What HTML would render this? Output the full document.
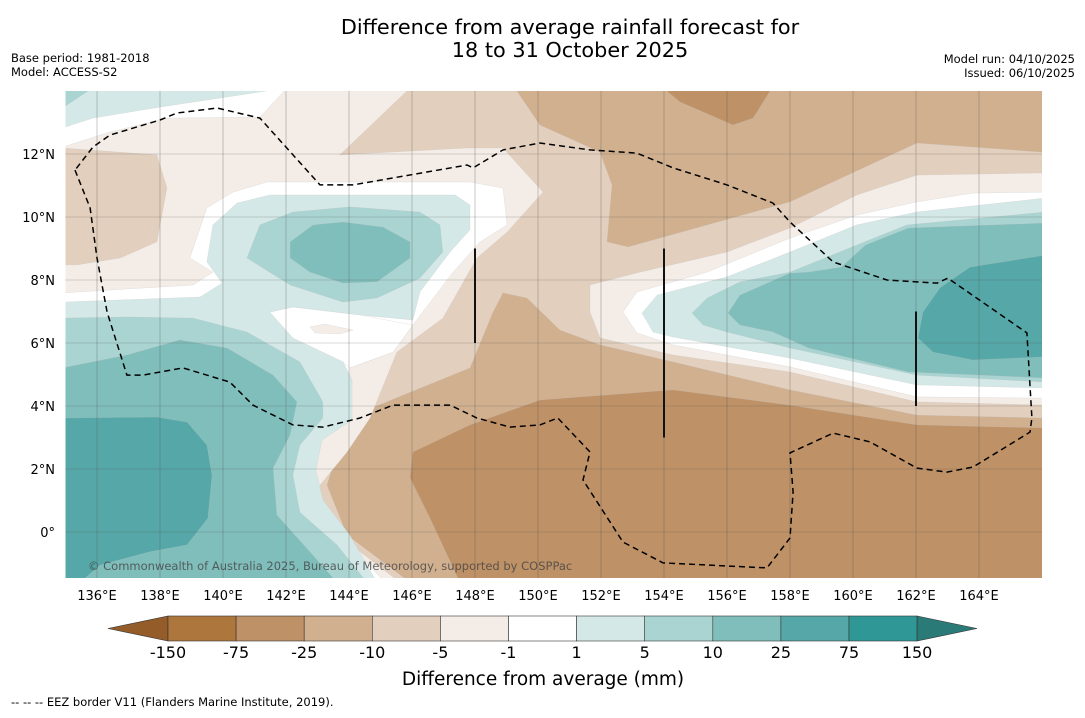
<!DOCTYPE html>
<html><head><meta charset="utf-8">
<style>
body{margin:0;background:#fff;font-family:"Liberation Sans","DejaVu Sans",sans-serif;}
svg text{font-family:"DejaVu Sans","Liberation Sans",sans-serif;}
</style></head>
<body>
<svg id="chart" width="1085" height="713" viewBox="0 0 1085 713" xmlns="http://www.w3.org/2000/svg">
<text x="570" y="34" font-size="20.8" text-anchor="middle">Difference from average rainfall forecast for</text>
<text x="570" y="57" font-size="20.8" text-anchor="middle">18 to 31 October 2025</text>
<text x="11" y="62" font-size="11.5">Base period: 1981-2018</text>
<text x="11" y="76" font-size="11.5">Model: ACCESS-S2</text>
<text x="1075" y="63" font-size="11.5" text-anchor="end">Model run: 04/10/2025</text>
<text x="1075" y="77" font-size="11.5" text-anchor="end">Issued: 06/10/2025</text>
<defs><clipPath id="mapclip"><rect x="65.5" y="91" width="976.5" height="487"/></clipPath></defs>
<g id="map" clip-path="url(#mapclip)"></g>
<g id="axes"></g>
<g id="cbar"></g>
<text x="543" y="685" font-size="18.5" text-anchor="middle">Difference from average (mm)</text>
<text x="11" y="706" font-size="11.5">--  --  -- EEZ border V11 (Flanders Marine Institute, 2019).</text>
</svg>
<script>
// axis extents
const lonMin=135, lonMax=166, latMin=-1.5, latMax=14;
const x=lon=>65.5+(lon-lonMin)*31.5;
const y=lat=>91+(latMax-lat)*31.5;
const NS='http://www.w3.org/2000/svg';
const levelColors=['#935c28','#ac763d','#be9166','#d1b08f','#e3cfbd','#f4ede7','#ffffff','#d4e9e7','#aad4d2','#80bebc','#56a8a8','#2f9896','#2a7a78'];
const levelLabels=['-150','-75','-25','-10','-5','-1','1','5','10','25','75','150'];
const lonTicks=[136,138,140,142,144,146,148,150,152,154,156,158,160,162,164];
const latTicks=[0,2,4,6,8,10,12];
// contour polygons [lon,lat], painter's order; level index into levelColors
const cLevels=[4,2,2,5,4,5,6,6,7,8,7,6,5,8,8,9,9,10,6,7,8,9,10];
const cPolys=[
[[135,14],[149.33,14],[150.06,12.92],[151.97,12.06],[152.35,11.02],[152.19,9.21],[152.86,9.05],[158,10.48],[162.03,12.35],[166,12.06],[166,3.62],[162.03,3.71],[158,4.51],[154.29,5.4],[151.97,5.94],[150.7,6.41],[149.65,7.43],[148.89,7.59],[148.57,6.98],[147.84,5.21],[143.94,3.62],[143.3,1.49],[143.94,-0.1],[145.94,-1.6],[134.9,-1.6]],
[[146.03,2.54],[147.84,3.4],[150.06,4.19],[154.29,4.51],[158,4.03],[162.03,3.4],[166.1,3.3],[166.1,-1.6],[147.52,-1.6],[146.57,0.44],[145.94,1.71]],
[[153.97,14.1],[154.51,13.65],[156.19,12.92],[156.83,13.14],[157.43,14.1]],
[[134.9,14.1],[145.94,14.1],[143.71,11.97],[147.75,12.19],[148.89,12.19],[150.16,10.79],[149.02,9.52],[148.06,8.7],[146.98,6.79],[145.52,5.71],[144.67,3.62],[143.94,2.54],[143.08,1.49],[142.86,0.13],[144.35,-0.63],[145.62,-1.6],[134.9,-1.6]],
[[134.9,12.19],[137.9,11.97],[138.22,10.92],[137.9,9.21],[136.73,8.7],[135.37,8.48],[134.9,8.48]],
[[151.65,7.84],[153.24,8.25],[156,8.89],[158,9.65],[160.12,10.7],[162.03,11.33],[166.1,11.4],[166.1,4.03],[162.03,4.13],[158,5.08],[154.29,5.62],[151.97,6.16],[151.65,6.98]],
[[134.9,7.59],[139.05,7.84],[139.68,8.25],[138.95,8.7],[139.49,10.29],[140.32,10.79],[141.4,11.11],[147.84,11.11],[148.89,10.92],[149.02,9.75],[148.16,9.21],[147.3,8.25],[146.03,6.57],[145.4,5.71],[144.03,5.21],[144.03,3.62],[143.08,3.08],[142.67,2.03],[142.86,0.95],[143.94,-0.32],[145.14,-1.6],[134.9,-1.6]],
[[134.9,14.1],[142.03,14.1],[141.17,13.17],[138.22,13.14],[136.41,12.7],[134.9,12.22]],
[[134.9,14.1],[142.03,14.1],[138,13.49],[135.87,13.14],[134.9,12.83]],
[[134.9,14.1],[135.87,14.1],[134.9,13.46]],
[[134.9,7.3],[139.27,7.46],[139.97,7.9],[139.49,8.57],[139.68,9.75],[140.44,10.44],[141.49,10.7],[147.37,10.7],[147.84,10.38],[147.84,9.59],[147.21,8.89],[146.25,7.62],[146.03,6.73],[144.35,6.89],[142.22,7.14],[141.49,6.98],[142.22,6.16],[143.81,5.4],[144.1,4.83],[144.1,3.56],[143.14,2.92],[142.95,1.97],[143.17,1.02],[144.03,-0.1],[144.89,-1.6],[134.9,-1.6]],
[[141.49,6.98],[142.22,7.14],[144.35,6.89],[146.03,6.57],[145.4,5.71],[144.03,5.21],[143.81,5.4],[142.22,6.16]],
[[142.76,6.51],[143.24,6.6],[144.13,6.41],[143.71,6.29],[142.92,6.32]],
[[134.9,6.79],[136.95,6.83],[139.05,6.79],[140.76,6.35],[142.44,5.4],[143.17,4.13],[143.17,3.62],[142.44,2.76],[142.22,1.81],[142.44,0.63],[143.62,-0.41],[144.57,-1.6],[134.9,-1.6]],
[[140.76,8.7],[141.17,9.75],[142.22,10.16],[144.03,10.32],[146.25,10.16],[146.89,9.75],[146.98,8.89],[146.25,8.06],[144.89,7.43],[143.81,7.3],[142.13,7.84]],
[[134.9,5.21],[136.95,5.62],[138.63,6.1],[140.13,5.84],[141.59,4.98],[142.35,4.13],[142.13,3.08],[141.59,2.03],[141.71,0.54],[142.76,-0.63],[143.62,-1.6],[134.9,-1.6]],
[[142.13,9.21],[142.86,9.75],[143.81,9.84],[145.08,9.68],[145.94,9.21],[145.94,8.7],[144.89,7.94],[143.81,7.9],[142.76,8.25],[142.13,8.7]],
[[134.9,3.62],[137.9,3.65],[138.86,3.49],[139.49,2.76],[139.65,1.81],[139.52,0.44],[138.86,-0.41],[137.68,-0.63],[136.1,-1.05],[135.46,-1.6],[134.9,-1.6]],
[[152.7,6.98],[153.14,7.62],[155.37,8.25],[158,9.33],[160.12,10.06],[162.03,10.48],[163.8,10.76],[166.1,10.79],[166.1,4.25],[162.03,4.29],[158,5.24],[154.29,5.94],[153.14,6.32]],
[[153.3,6.95],[153.78,7.52],[156,8.1],[158,8.89],[160.12,9.75],[162.03,10.16],[166.1,10.6],[166.1,4.57],[162.03,4.67],[158,5.52],[154.29,6.19],[153.65,6.35]],
[[154.89,6.95],[155.37,7.43],[156.41,7.94],[158,8.25],[160.12,9.11],[161.71,9.75],[166.1,10.16],[166.1,4.76],[162.03,4.98],[158,5.84],[156,6.35],[155.24,6.57]],
[[156.03,6.95],[156.41,7.52],[158,8.22],[158.59,8.25],[159.63,8.41],[160.4,9.11],[161.76,9.65],[166.1,9.81],[166.1,4.89],[161.76,5.08],[158.59,5.84],[157.46,6.35],[156.41,6.57]],
[[162.06,6.16],[162.22,6.98],[162.76,7.75],[163.71,8.41],[166.1,8.79],[166.1,5.56],[163.8,5.46],[162.54,5.71]]
];
const eezLon=[135.3,135.78,136,136.32,136.95,137.46,138.73,140.22,140.95,142.22,143.17,144.35,145.4,147.21,148.06,149.11,150.06,150.63,151.65,151.43,152.7,153.97,157.27,158,158.1,158,159.37,160.54,162.03,162.98,163.81,165.62,165.68,165.52,163.01,162.67,161.08,159.37,158,157.46,156,154.29,153.14,151.65,150.06,148.89,147.94,147.75,144.13,143.08,141.17,139.81,138.54,138,136.41,135.87,135.3];
const eezLat=[11.49,10.29,8.7,6.98,4.98,4.98,5.21,4.76,4.03,3.4,3.33,3.62,4.03,4.03,3.62,3.33,3.4,3.62,2.54,1.65,-0.32,-0.98,-1.14,-0.19,1.27,2.51,3.14,2.86,2.03,1.9,2.06,3.17,3.62,6.32,8.06,7.9,8.0,8.57,9.84,10.44,11.02,11.56,12.03,12.13,12.35,12.13,11.56,11.65,11.02,11.02,13.14,13.46,13.3,13.08,12.6,12.22,11.49];
const boundaryLon=[148,154,162];
const boundaryLat0=[9,9,7];
const boundaryLat1=[6,3,4];

const map=document.getElementById('map');
const bg=document.createElementNS(NS,'rect');


bg.setAttribute('x',x(lonMin));bg.setAttribute('y',y(latMax));
bg.setAttribute('width',x(lonMax)-x(lonMin));bg.setAttribute('height',y(latMin)-y(latMax));
bg.setAttribute('fill',levelColors[3]);
map.appendChild(bg);
cPolys.forEach((poly,i)=>{
  const p=document.createElementNS(NS,'polygon');
  
  
  p.setAttribute('points',poly.map(d=>x(d[0]).toFixed(1)+','+y(d[1]).toFixed(1)).join(' '));
  p.setAttribute('fill',levelColors[cLevels[i]]);
  p.setAttribute('stroke','#bdbdbd');p.setAttribute('stroke-width','0.4');p.setAttribute('stroke-opacity','0.5');
  p.setAttribute('stroke-linejoin','round');
  map.appendChild(p);
});
// grid
lonTicks.forEach(v=>{
  const l=document.createElementNS(NS,'line');
  
  
  l.setAttribute('x1',x(v));l.setAttribute('x2',x(v));l.setAttribute('y1',y(latMax));l.setAttribute('y2',y(latMin));
  l.setAttribute('stroke','#555');l.setAttribute('stroke-width','0.7');l.setAttribute('stroke-opacity','0.45');
  map.appendChild(l);
});
latTicks.forEach(v=>{
  const l=document.createElementNS(NS,'line');
  
  
  l.setAttribute('x1',x(lonMin));l.setAttribute('x2',x(lonMax));l.setAttribute('y1',y(v));l.setAttribute('y2',y(v));
  l.setAttribute('stroke','#555');l.setAttribute('stroke-width','0.8');l.setAttribute('stroke-dasharray','1,1');l.setAttribute('stroke-opacity','0.6');
  map.appendChild(l);
});
const eez=document.createElementNS(NS,'polyline');


eez.setAttribute('points',eezLon.map((v,i)=>x(v).toFixed(1)+','+y(eezLat[i]).toFixed(1)).join(' '));
eez.setAttribute('fill','none');eez.setAttribute('stroke','#000');eez.setAttribute('stroke-width','1.5');eez.setAttribute('stroke-dasharray','6,4');
map.appendChild(eez);
boundaryLon.forEach((v,i)=>{
  const l=document.createElementNS(NS,'line');
  
  
  l.setAttribute('x1',x(v));l.setAttribute('x2',x(v));l.setAttribute('y1',y(boundaryLat0[i]));l.setAttribute('y2',y(boundaryLat1[i]));
  l.setAttribute('stroke','#111');l.setAttribute('stroke-width','2');
  map.appendChild(l);
});
const cr=document.createElementNS(NS,'text');


cr.setAttribute('x','88');cr.setAttribute('y','570');cr.setAttribute('font-size','11.5');cr.setAttribute('fill','#444');cr.setAttribute('fill-opacity','0.8');
cr.textContent='© Commonwealth of Australia 2025, Bureau of Meteorology, supported by COSPPac';
map.appendChild(cr);
// axes labels
const axes=document.getElementById('axes');
lonTicks.forEach(v=>{
  const t=document.createElementNS(NS,'text');
  
  
  t.setAttribute('x',x(v));t.setAttribute('y','600');t.setAttribute('font-size','13');t.setAttribute('text-anchor','middle');
  t.textContent=v+'°E';axes.appendChild(t);
});
latTicks.forEach(v=>{
  const t=document.createElementNS(NS,'text');
  
  
  t.setAttribute('x','55');t.setAttribute('y',y(v)+5);t.setAttribute('font-size','13');t.setAttribute('text-anchor','end');
  t.textContent=v===0?'0°':v+'°N';axes.appendChild(t);
});
// colorbar
const cb=document.getElementById('cbar');
const cbx0=168, cbw=68.1, cby=616, cbh=25;
const la=document.createElementNS(NS,'polygon');


la.setAttribute('points',`108,${cby+cbh/2} ${cbx0},${cby} ${cbx0},${cby+cbh}`);la.setAttribute('fill',levelColors[0]);la.setAttribute('stroke','#333');la.setAttribute('stroke-width','0.6');
cb.appendChild(la);
for(let i=0;i<11;i++){
  const r=document.createElementNS(NS,'rect');
  
  
  r.setAttribute('x',cbx0+i*cbw);r.setAttribute('y',cby);r.setAttribute('width',cbw);r.setAttribute('height',cbh);
  r.setAttribute('fill',levelColors[i+1]);r.setAttribute('stroke','#333');r.setAttribute('stroke-width','0.6');
  cb.appendChild(r);
}
const ex=cbx0+11*cbw;
const ra=document.createElementNS(NS,'polygon');


ra.setAttribute('points',`${ex},${cby} 977,${cby+cbh/2} ${ex},${cby+cbh}`);ra.setAttribute('fill',levelColors[12]);ra.setAttribute('stroke','#333');ra.setAttribute('stroke-width','0.6');
cb.appendChild(ra);
levelLabels.forEach((s,i)=>{
  const t=document.createElementNS(NS,'text');
  
  
  t.setAttribute('x',cbx0+i*cbw);t.setAttribute('y','658');t.setAttribute('font-size','16');t.setAttribute('text-anchor','middle');
  t.textContent=s;cb.appendChild(t);
});
</script>
</body></html>
